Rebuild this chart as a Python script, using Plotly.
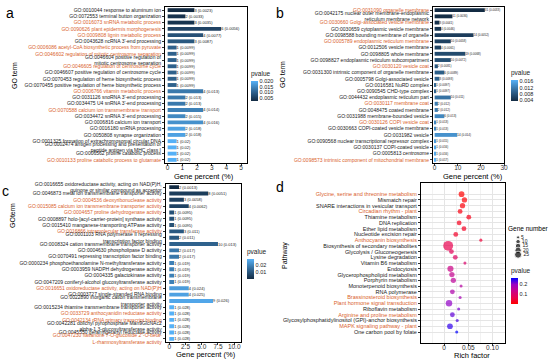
import plotly.graph_objects as go

W, H = 550, 361
def fx(px): return px / W
def fy(py): return 1 - py / H

ORANGE = "#D9622B"
FONT = "Liberation Sans, Arial, sans-serif"
TXT = "#1a1a1a"

# ---------------- Panel a: GO biological process ----------------
a_terms = [
    "GO:0010044 response to aluminum ion",
    "GO:0072553 terminal button organization",
    "GO:0016073 snRNA metabolic process",
    "GO:0090626 plant epidermis morphogenesis",
    "GO:0009808 lignin metabolic process",
    "GO:0043628 ncRNA 3'-end processing",
    "GO:0006086 acetyl-CoA biosynthetic process from pyruvate",
    "GO:0046602 regulation of mitotic centrosome separation",
    "GO:0046604 positive regulation of<br>mitotic centrosome separation",
    "GO:0046605 regulation of centrosome cycle",
    "GO:0046607 positive regulation of centrosome cycle",
    "GO:0070453 regulation of heme biosynthetic process",
    "GO:0070455 positive regulation of heme biosynthetic process",
    "GO:0006766 vitamin metabolic process",
    "GO:0031126 snoRNA 3'-end processing",
    "GO:0034475 U4 snRNA 3'-end processing",
    "GO:0070588 calcium ion transmembrane transport",
    "GO:0034472 snRNA 3'-end processing",
    "GO:0006816 calcium ion transport",
    "GO:0016180 snRNA processing",
    "GO:0050808 synapse organization",
    "GO:0001325 formation of extrachromosomal circular DNA",
    "GO:0002474 antigen processing and presentation of<br>peptide antigen via MHC class I",
    "GO:0006562 proline catabolic process",
    "GO:0010133 proline catabolic process to glutamate",
]
a_orange = [0,0,1,1,1,0,1,1,0,1,0,0,0,1,0,0,1,0,0,0,0,0,0,0,1]
a_count = [3,2,3,6,4,3,1,1,1,1,1,1,1,4,2,2,4,2,4,2,2,1,1,1,1]
a_percent = [1.82,1.21,1.82,3.64,2.42,1.82,0.61,0.61,0.61,0.61,0.61,0.61,0.61,
             2.42,1.21,1.21,2.42,1.21,2.42,1.21,1.21,0.61,0.61,0.61,0.61]
a_pvalue = [0.0023,0.0033,0.0035,0.0056,0.0077,0.0087,0.0099,0.0099,0.0099,0.0099,
            0.0099,0.0099,0.0099,0.013,0.013,0.013,0.014,0.015,0.016,0.018,0.018,
            0.02,0.02,0.02,0.02]

# ---------------- Panel b: GO cellular component ----------------
b_terms = [
    "GO:0031090 organelle membrane",
    "GO:0042175 nuclear outer membrane-endoplasmic<br>reticulum membrane network",
    "GO:0030660 Golgi-associated vesicle membrane",
    "GO:0030659 cytoplasmic vesicle membrane",
    "GO:0098588 bounding membrane of organelle",
    "GO:0005789 endoplasmic reticulum membrane",
    "GO:0012506 vesicle membrane",
    "GO:0098805 whole membrane",
    "GO:0098827 endoplasmic reticulum subcompartment",
    "GO:0030120 vesicle coat",
    "GO:0031300 intrinsic component of organelle membrane",
    "GO:0005798 Golgi-associated vesicle",
    "GO:0016581 NuRD complex",
    "GO:0090545 CHD-type complex",
    "GO:0044432 endoplasmic reticulum part",
    "GO:0030117 membrane coat",
    "GO:0048475 coated membrane",
    "GO:0031988 membrane-bounded vesicle",
    "GO:0030126 COPI vesicle coat",
    "GO:0030663 COPI-coated vesicle membrane",
    "GO:0031982 vesicle",
    "GO:0090568 nuclear transcriptional repressor complex",
    "GO:0030137 COPI-coated vesicle",
    "GO:0005813 centrosome",
    "GO:0098573 intrinsic component of mitochondrial membrane",
]
b_orange = [1,0,1,0,0,1,0,0,0,1,0,0,0,0,0,1,0,0,1,0,0,0,0,0,1]
b_count = [31,11,3,4,24,10,4,19,10,2,6,3,1,1,10,2,2,6,1,1,14,1,1,1,1]
b_percent = [21.7,7.7,2.1,2.8,16.8,7.0,2.8,13.3,7.0,1.4,4.2,2.1,0.7,0.7,7.0,1.4,1.4,
             4.2,0.7,0.7,9.8,0.7,0.7,0.7,0.7]
b_pvalue = [0.0033,0.0036,0.0041,0.0046,0.0052,0.0058,0.0061,0.0068,0.0072,0.0081,
            0.0089,0.0093,0.0097,0.0097,0.011,0.012,0.012,0.013,0.013,0.013,0.014,
            0.015,0.016,0.016,0.017]

# ---------------- Panel c: GO molecular function ----------------
c_terms = [
    "GO:0016655 oxidoreductase activity, acting on NAD(P)H,<br>quinone or similar compound as acceptor",
    "GO:0046873 metal ion transmembrane transporter activity",
    "GO:0004536 deoxyribonuclease activity",
    "GO:0015085 calcium ion transmembrane transporter activity",
    "GO:0004657 proline dehydrogenase activity",
    "GO:0008897 holo-[acyl-carrier-protein] synthase activity",
    "GO:0015410 manganese-transporting ATPase activity",
    "GO:0016866 intramolecular transferase activity",
    "GO:0001103 RNA polymerase II repressing<br>transcription factor binding",
    "GO:0008324 cation transmembrane transporter activity",
    "GO:0004630 phospholipase D activity",
    "GO:0070491 repressing transcription factor binding",
    "GO:0000234 phosphoethanolamine N-methyltransferase activity",
    "GO:0003959 NADPH dehydrogenase activity",
    "GO:0004335 galactokinase activity",
    "GO:0047209 coniferyl-alcohol glucosyltransferase activity",
    "GO:0016651 oxidoreductase activity, acting on NAD(P)H",
    "GO:0003727 single-stranded RNA binding",
    "GO:0022890 inorganic cation transmembrane<br>transporter activity",
    "GO:0015234 thiamine transmembrane transporter activity",
    "GO:0033729 anthocyanidin reductase activity",
    "GO:0042134 rRNA primary transcript binding",
    "GO:0042281 dolichyl pyrophosphate Man9GlcNAc2<br>alpha-1,3-glucosyltransferase activity",
    "GO:0045550 geranylgeranyl reductase activity",
    "GO:0047230 flavanone 7-O-glucoside 2''-O-beta-<br>L-rhamnosyltransferase activity",
]
c_orange = [0,0,1,1,1,0,0,1,0,0,0,0,0,0,0,0,1,0,0,0,1,1,0,0,1]
c_count = [2,8,3,4,1,1,1,3,2,10,2,2,1,1,1,1,4,4,9,1,1,1,1,1,1]
c_percent = [1.5,6.0,2.25,3.0,0.75,0.75,0.75,2.25,1.5,7.5,1.5,1.5,0.75,0.75,0.75,0.75,
             3.0,3.0,6.75,0.75,0.75,0.75,0.75,0.75,0.75]
c_pvalue = [0.0013,0.0051,0.0058,0.0062,0.0095,0.0095,0.0095,0.011,0.011,0.013,0.017,
            0.017,0.019,0.019,0.019,0.019,0.024,0.025,0.026,0.028,0.028,0.028,0.028,
            0.028,0.028]

# ---------------- Panel d: KEGG pathways ----------------
d_pathways = [
    "Glycine, serine and threonine metabolism",
    "Mismatch repair",
    "SNARE interactions in vesicular transport",
    "Circadian rhythm - plant",
    "Thiamine metabolism",
    "DNA replication",
    "Ether lipid metabolism",
    "Nucleotide excision repair",
    "Anthocyanin biosynthesis",
    "Biosynthesis of secondary metabolites",
    "Glycolysis / Gluconeogenesis",
    "Lysine degradation",
    "Vitamin B6 metabolism",
    "Endocytosis",
    "Glycerophospholipid metabolism",
    "Porphyrin metabolism",
    "Monoterpenoid biosynthesis",
    "RNA polymerase",
    "Brassinosteroid biosynthesis",
    "Plant hormone signal transduction",
    "Riboflavin metabolism",
    "Arginine and proline metabolism",
    "Glycosylphosphatidylinositol (GPI)-anchor biosynthesis",
    "MAPK signaling pathway - plant",
    "One carbon pool by folate",
]
d_orange = [1,0,0,1,0,0,0,0,1,0,0,0,0,0,0,0,0,0,1,1,0,1,0,1,0]
d_rich = [0.036,0.042,0.038,0.033,0.051,0.031,0.041,0.024,0.076,0.0083,0.015,0.023,
          0.043,0.013,0.016,0.019,0.035,0.017,0.033,0.010,0.030,0.017,0.027,0.012,0.026]
d_genes = [7,6,6,5,5,5,5,5,2,21,5,5,2,8,6,6,2,5,2,9,2,5,2,7,2]
d_pvalue = [0.006,0.012,0.015,0.02,0.025,0.03,0.035,0.04,0.05,0.07,0.08,0.09,0.1,0.13,
            0.14,0.15,0.16,0.17,0.18,0.2,0.21,0.22,0.23,0.24,0.26]
size_breaks = [5, 10, 15, 20, 25]

# ---------------------------------------------------------------
def colored(labels, flags):
    return [f'<span style="color:{ORANGE}">{l}</span>' if f else l
            for l, f in zip(labels, flags)]

BLUES = [[0, "#132B43"], [0.5, "#336A98"], [1, "#56B1F7"]]
REDBLUE = [[0, "#FF0000"], [0.25, "rgb(232,0,79)"], [0.5, "rgb(202,0,136)"],
           [0.75, "rgb(154,0,195)"], [1, "#0000FF"]]

fig = go.Figure()

def add_bars(terms, pct, cnt, pv, xa, ya, cax, tsize):
    fig.add_trace(go.Bar(
        x=pct, y=terms, orientation="h", xaxis=xa, yaxis=ya,
        marker=dict(color=pv, coloraxis=cax, line=dict(width=0)),
        width=0.62,
        text=[f"{c} ({p:g})" for c, p in zip(cnt, pv)],
        textposition="outside", textangle=0, constraintext="none",
        textfont=dict(size=tsize, color=TXT, family=FONT),
        cliponaxis=False, showlegend=False, hoverinfo="skip"))

add_bars(a_terms, a_percent, a_count, a_pvalue, "x", "y", "coloraxis", 4)
add_bars(b_terms, b_percent, b_count, b_pvalue, "x2", "y2", "coloraxis2", 3)
add_bars(c_terms, c_percent, c_count, c_pvalue, "x3", "y3", "coloraxis3", 4)

fig.add_trace(go.Scatter(
    x=d_rich, y=d_pathways, xaxis="x4", yaxis="y4", mode="markers",
    marker=dict(size=d_genes, sizemode="area", sizeref=21 / 49.0, sizemin=1.2,
                color=d_pvalue, coloraxis="coloraxis4", line=dict(width=0)),
    cliponaxis=False, showlegend=False, hoverinfo="skip"))

# size legend for panel d
fig.add_trace(go.Scatter(
    x=[0] * len(size_breaks), y=[str(s) for s in size_breaks], xaxis="x5", yaxis="y5",
    mode="markers+text", text=[str(s) for s in size_breaks], textposition="middle right",
    textfont=dict(size=5, color=TXT, family=FONT),
    marker=dict(size=size_breaks, sizemode="area", sizeref=25 / 25.0, sizemin=1.2,
                color="black"),
    cliponaxis=False, showlegend=False, hoverinfo="skip"))

def xaxis(dom, rng, tickvals, ticktext, anchor, grid=False, minor=None):
    d = dict(domain=dom, range=rng, anchor=anchor, tickmode="array",
             tickvals=tickvals, ticktext=ticktext,
             tickfont=dict(size=6.5, color="#333", family=FONT),
             ticks="outside", ticklen=2, tickcolor="#333", tickwidth=0.6,
             ticklabelstandoff=-4,
             showline=True, mirror=True, linecolor="black", linewidth=1,
             zeroline=False, showgrid=grid, gridcolor="#E5E5E5", gridwidth=0.6,
             automargin=False)
    if minor:
        d["minor"] = dict(tickvals=minor, showgrid=True, gridcolor="#F2F2F2",
                          gridwidth=0.4, ticks="")
    return d

def yaxis(dom, cats, flags, anchor, size, grid=False):
    return dict(domain=dom, anchor=anchor, type="category", autorange="reversed",
                tickmode="array", tickvals=cats, ticktext=colored(cats, flags),
                tickfont=dict(size=size, color=TXT, family=FONT),
                ticks="outside", ticklen=2, tickcolor="#333", tickwidth=0.6,
                showline=True, mirror=True, linecolor="black", linewidth=1,
                zeroline=False, showgrid=grid, gridcolor="#E5E5E5", gridwidth=0.6,
                automargin=False)

def cbar(xpx, toppx, lenpx, tickvals, ticktext):
    return dict(x=fx(xpx), xanchor="left", y=fy(toppx), yanchor="top",
                lenmode="pixels", len=lenpx, thickness=7, xpad=0, ypad=0,
                outlinewidth=0, ticks="", tickvals=tickvals, ticktext=ticktext,
                tickfont=dict(size=5.5, color="#222", family=FONT),
                title=dict(text="pvalue", side="top",
                           font=dict(size=6.5, color="#222", family=FONT)))

fig.update_layout(
    width=W, height=H, margin=dict(l=0, r=0, t=0, b=0),
    paper_bgcolor="white", plot_bgcolor="white",
    font=dict(family=FONT, color=TXT),
    bargap=0.3,
    xaxis=xaxis([fx(165), fx(247)], [-0.18, 5.4], [0, 1, 2, 3, 4, 5],
                ["0", "1", "2", "3", "4", "5"], "y"),
    yaxis=yaxis([fy(163), fy(7)], a_terms, a_orange, "x", 5),
    xaxis2=xaxis([fx(433), fx(504)], [-0.7, 30.0], [0, 10, 20, 30],
                 ["0", "10", "20", "30"], "y2"),
    yaxis2=yaxis([fy(163), fy(7)], b_terms, b_orange, "x2", 5),
    xaxis3=xaxis([fx(165.7), fx(240.7)], [-0.55, 11.0], [0, 2.5, 5, 7.5, 10],
                 ["0", "2.5", "5.0", "7.5", "10.0"], "y3"),
    yaxis3=yaxis([fy(342), fy(184)], c_terms, c_orange, "x3", 5),
    xaxis4=xaxis([fx(421), fx(505)], [-0.048, 0.126], [0, 0.05, 0.10],
                 ["0", "0.05", "0.10"], "y4", grid=True,
                 minor=[-0.025, 0.025, 0.075, 0.125]),
    yaxis4=yaxis([fy(343), fy(183)], d_pathways, d_orange, "x4", 5.5, grid=True),
    xaxis5=dict(domain=[fx(510), fx(545)], range=[-0.3, 1], anchor="y5", visible=False),
    yaxis5=dict(domain=[fy(260), fy(233)], anchor="x5", type="category",
                autorange="reversed", visible=False),
    coloraxis=dict(colorscale=BLUES, cmin=min(a_pvalue), cmax=max(a_pvalue),
                   colorbar=cbar(251, 68, 33, [0.005, 0.01, 0.015, 0.02],
                                 ["0.005", "0.010", "0.015", "0.020"])),
    coloraxis2=dict(colorscale=BLUES, cmin=min(b_pvalue), cmax=max(b_pvalue),
                    colorbar=cbar(511, 67, 34, [0.004, 0.008, 0.012, 0.016],
                                  ["0.004", "0.008", "0.012", "0.016"])),
    coloraxis3=dict(colorscale=BLUES, cmin=min(c_pvalue), cmax=max(c_pvalue),
                    colorbar=cbar(247, 246, 33, [0.01, 0.02], ["0.01", "0.02"])),
    coloraxis4=dict(colorscale=REDBLUE, cmin=min(d_pvalue), cmax=max(d_pvalue),
                    colorbar=cbar(511, 265, 39, [0.1, 0.2], ["0.1", "0.2"])),
)

ann = []
def label(text, xpx, ypx, size, angle=0, bold=False):
    ann.append(dict(text=f"<b>{text}</b>" if bold else text, x=fx(xpx), y=fy(ypx),
                    xref="paper", yref="paper", showarrow=False, textangle=angle,
                    font=dict(size=size, color="black", family=FONT),
                    xanchor="center", yanchor="middle"))

label("a", 10, 13, 14)
label("b", 280, 13, 14)
label("c", 5, 191, 14)
label("d", 280, 187, 14)
label("GO term", 14, 76, 7, angle=-90)
label("GO term", 282, 75, 7, angle=-90)
label("GOterm", 13, 216, 7, angle=-90)
label("Pathway", 285, 256, 7, angle=-90)
label("Gene percent (%)", 204, 176, 7.5)
label("Gene percent (%)", 473, 176, 7.5)
label("Gene percent (%)", 206, 354, 7.5)
label("Rich factor", 472, 355, 7.5)
label("Gene number", 528, 228, 6.5)
fig.update_layout(annotations=ann)

fig.write_html("out.html", config={"displayModeBar": False},
               post_script="document.body.style.margin='0';document.body.style.overflow='hidden';")
